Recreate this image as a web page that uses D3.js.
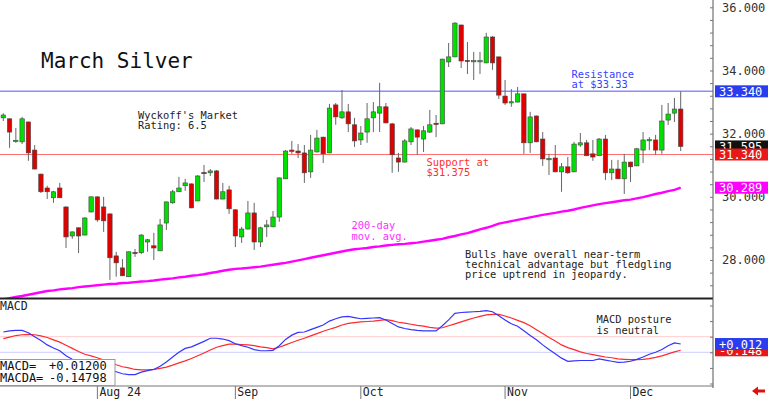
<!DOCTYPE html>
<html>
<head>
<meta charset="utf-8">
<script src="https://cdn.jsdelivr.net/npm/d3@7"></script>
<style>
  body { margin: 0; background: #fff; }
  svg { display: block; font-family: 'DejaVu Sans Mono', monospace; }
</style>
</head>
<body>
<div id="chart"></div>
<script>
// daily bars, oldest first
const opens = [32.50, 32.47, 31.77, 31.74, 32.37, 31.48, 30.72, 30.28, 29.97, 30.28,
  29.68, 28.76, 29.02, 28.79, 29.52, 30.00, 29.68, 29.46, 28.13, 27.75,
  27.47, 28.24, 28.23, 28.57, 28.45, 28.29, 29.17, 29.81, 30.16, 30.35,
  30.41, 29.87, 30.77, 30.76, 30.82, 29.93, 30.22, 29.59, 28.73, 28.98,
  29.49, 28.57, 29.05, 29.05, 29.36, 30.57, 31.48, 31.45, 31.39, 30.79,
  31.42, 31.89, 31.39, 32.91, 32.50, 32.69, 32.28, 31.80, 32.05, 32.50,
  32.65, 32.85, 32.31, 31.23, 31.10, 31.74, 32.12, 31.83, 32.05, 32.33,
  32.31, 34.27, 34.43, 35.44, 34.32, 34.29, 34.29, 34.24, 35.06, 34.43,
  33.19, 32.99, 33.00, 33.26, 31.71, 32.56, 31.83, 31.19, 31.23, 30.79,
  30.95, 30.79, 31.64, 31.71, 31.36, 31.30, 31.83, 30.76, 30.88, 30.57,
  31.10, 30.98, 31.48, 31.78, 31.80, 31.48, 32.43, 32.65, 32.78]
const highs = [32.65, 32.48, 32.18, 32.53, 32.38, 31.64, 30.73, 30.35, 30.19, 30.44,
  29.69, 28.90, 29.03, 29.36, 30.01, 30.01, 30.00, 29.47, 28.26, 28.03,
  28.27, 28.35, 28.82, 28.67, 28.86, 29.30, 29.85, 30.22, 30.63, 30.57,
  30.42, 30.69, 31.01, 30.88, 30.85, 30.44, 30.35, 29.60, 29.05, 29.87,
  29.81, 29.05, 29.27, 29.55, 30.61, 31.48, 31.77, 31.67, 31.64, 31.96,
  32.12, 31.90, 32.94, 32.97, 33.38, 32.94, 32.50, 32.24, 32.97, 33.00,
  33.61, 32.97, 32.34, 31.39, 31.83, 32.21, 32.13, 32.24, 32.75, 32.59,
  34.37, 34.87, 35.53, 35.45, 34.90, 34.59, 34.59, 35.19, 35.09, 34.44,
  33.70, 33.41, 33.48, 33.27, 32.69, 32.57, 32.05, 31.36, 31.64, 31.07,
  31.26, 31.74, 32.02, 31.80, 31.80, 31.86, 31.96, 31.17, 31.17, 31.36,
  31.11, 31.55, 32.05, 31.89, 31.96, 32.91, 32.97, 33.13, 33.34]
const lows = [32.40, 31.55, 31.71, 31.67, 31.14, 30.87, 30.12, 29.93, 29.81, 29.96,
  28.38, 28.67, 28.22, 28.78, 29.51, 29.21, 28.89, 27.37, 27.47, 27.49,
  27.46, 28.10, 28.19, 28.26, 28.00, 28.28, 28.95, 29.78, 30.15, 30.19,
  29.64, 29.86, 30.47, 30.66, 29.92, 29.92, 29.46, 28.41, 28.54, 28.97,
  28.32, 28.41, 28.73, 29.04, 29.21, 30.56, 31.36, 31.23, 30.44, 30.60,
  31.41, 31.07, 31.38, 32.28, 32.47, 32.05, 31.58, 31.64, 31.71, 32.05,
  32.05, 32.33, 30.76, 30.79, 31.09, 31.64, 31.33, 31.42, 32.02, 31.89,
  32.30, 34.11, 34.42, 34.08, 33.89, 33.70, 33.89, 34.23, 34.02, 33.10,
  32.91, 32.85, 32.99, 31.36, 31.39, 31.73, 30.98, 30.69, 30.78, 30.16,
  30.73, 30.78, 31.58, 31.29, 31.14, 31.29, 30.53, 30.53, 30.56, 30.09,
  30.47, 30.97, 31.07, 31.48, 31.33, 31.36, 32.28, 32.37, 31.45]
const closes = [32.59, 32.05, 31.79, 32.47, 31.39, 30.88, 30.16, 30.16, 30.16, 29.97,
  28.73, 28.89, 28.76, 29.33, 30.00, 29.27, 29.24, 28.07, 27.91, 27.50,
  28.26, 28.21, 28.79, 28.64, 28.38, 29.11, 29.84, 30.16, 30.28, 30.44,
  29.65, 30.66, 30.74, 30.82, 29.93, 30.16, 29.62, 28.76, 28.98, 29.49,
  28.57, 29.02, 29.11, 29.36, 30.60, 31.45, 31.44, 31.39, 30.76, 31.48,
  31.86, 31.36, 32.81, 32.53, 32.69, 32.31, 31.77, 32.02, 32.47, 32.69,
  32.85, 32.34, 31.33, 31.10, 31.77, 32.15, 31.89, 32.09, 32.28, 32.29,
  34.36, 34.43, 35.50, 34.30, 34.29, 34.31, 34.31, 35.06, 34.24, 33.22,
  32.97, 33.01, 33.26, 31.71, 32.53, 31.74, 31.20, 31.21, 30.79, 30.95,
  30.76, 31.67, 31.71, 31.30, 31.26, 31.83, 30.76, 30.88, 30.57, 31.10,
  30.95, 31.52, 31.80, 31.81, 31.48, 32.40, 32.62, 32.78, 31.595]
const ma200 = [26.75, 26.79, 26.83, 26.86, 26.90, 26.94, 26.98, 27.02, 27.04, 27.07,
  27.09, 27.11, 27.14, 27.16, 27.18, 27.20, 27.22, 27.24, 27.25, 27.27,
  27.28, 27.30, 27.32, 27.33, 27.35, 27.38, 27.40, 27.42, 27.45, 27.47,
  27.50, 27.52, 27.55, 27.59, 27.62, 27.66, 27.69, 27.72, 27.73, 27.75,
  27.77, 27.79, 27.82, 27.85, 27.88, 27.91, 27.95, 27.99, 28.03, 28.07,
  28.11, 28.15, 28.19, 28.23, 28.27, 28.31, 28.34, 28.36, 28.38, 28.41,
  28.43, 28.46, 28.48, 28.50, 28.51, 28.53, 28.55, 28.58, 28.61, 28.64,
  28.67, 28.72, 28.76, 28.81, 28.85, 28.91, 28.97, 29.02, 29.08, 29.15,
  29.19, 29.23, 29.27, 29.31, 29.35, 29.39, 29.43, 29.46, 29.49, 29.53,
  29.56, 29.60, 29.65, 29.69, 29.73, 29.77, 29.80, 29.83, 29.86, 29.89,
  29.91, 29.95, 29.99, 30.04, 30.09, 30.13, 30.18, 30.22, 30.289]
const macd = [0.32, 0.35, 0.36, 0.36, 0.30, 0.20, 0.10, -0.01, -0.09, -0.16,
  -0.29, -0.38, -0.46, -0.51, -0.55, -0.58, -0.61, -0.65, -0.70, -0.75,
  -0.77, -0.77, -0.71, -0.67, -0.64, -0.56, -0.45, -0.32, -0.20, -0.10,
  -0.06, 0.01, 0.08, 0.16, 0.16, 0.14, 0.10, 0.02, -0.03, -0.07,
  -0.13, -0.16, -0.16, -0.15, -0.03, 0.13, 0.24, 0.31, 0.32, 0.38,
  0.44, 0.50, 0.60, 0.66, 0.71, 0.72, 0.69, 0.66, 0.67, 0.68,
  0.69, 0.63, 0.54, 0.45, 0.41, 0.38, 0.36, 0.35, 0.35, 0.35,
  0.48, 0.63, 0.80, 0.82, 0.83, 0.84, 0.85, 0.87, 0.84, 0.74,
  0.63, 0.53, 0.47, 0.35, 0.23, 0.12, -0.01, -0.13, -0.24, -0.35,
  -0.43, -0.42, -0.41, -0.41, -0.41, -0.37, -0.40, -0.43, -0.46, -0.45,
  -0.43, -0.38, -0.32, -0.25, -0.20, -0.13, -0.03, 0.04, 0.012]
const macdAvg = [0.15, 0.19, 0.23, 0.25, 0.26, 0.25, 0.22, 0.18, 0.12, 0.06,
  -0.02, -0.10, -0.18, -0.25, -0.29, -0.34, -0.40, -0.46, -0.52, -0.57,
  -0.60, -0.64, -0.65, -0.65, -0.64, -0.61, -0.58, -0.53, -0.47, -0.42,
  -0.36, -0.29, -0.22, -0.14, -0.07, -0.03, 0.01, 0.01, 0.00, -0.01,
  -0.03, -0.06, -0.08, -0.11, -0.07, -0.01, 0.05, 0.11, 0.16, 0.22,
  0.28, 0.34, 0.39, 0.44, 0.50, 0.54, 0.56, 0.58, 0.59, 0.60,
  0.62, 0.64, 0.61, 0.57, 0.55, 0.52, 0.49, 0.47, 0.44, 0.42,
  0.43, 0.48, 0.53, 0.58, 0.63, 0.68, 0.72, 0.76, 0.77, 0.77,
  0.73, 0.68, 0.62, 0.56, 0.48, 0.38, 0.28, 0.18, 0.09, -0.01,
  -0.08, -0.13, -0.19, -0.23, -0.26, -0.29, -0.32, -0.34, -0.37, -0.38,
  -0.39, -0.39, -0.38, -0.36, -0.33, -0.29, -0.24, -0.19, -0.148]
const dateLabels = ['Aug 24', 'Sep', 'Oct', 'Nov', 'Dec']
const dateIndex = [15, 37, 57, 80, 100]
const priceTicks = [28, 30, 32, 34, 36]
const resistance = 33.34
const support = 31.34

const W = 768
const H = 399
const plotRight = 713
const priceBottom = 298.5
const macdTop = 299
const macdBottom = 386

const svg = d3.select('#chart').append('svg')
  .attr('width', W).attr('height', H)

const x = d3.scaleLinear().domain([0, closes.length - 1]).range([3.3, 680.7])
const y = d3.scaleLinear().domain([28, 36]).range([260, 7.3])
const ym = d3.scaleLinear().domain([-0.2, 0.2]).range([352.3, 336.7])

// clip areas for both panels
const defs = svg.append('defs')
defs.append('clipPath').attr('id', 'clipP').append('rect')
  .attr('x', 0).attr('y', 0).attr('width', plotRight).attr('height', priceBottom)
defs.append('clipPath').attr('id', 'clipM').append('rect')
  .attr('x', 0).attr('y', macdTop).attr('width', plotRight).attr('height', macdBottom - macdTop)

const mono = "'DejaVu Sans Mono', monospace"

// ---------- price panel ----------
const pp = svg.append('g').attr('clip-path', 'url(#clipP)')

pp.append('line')
  .attr('x1', 0).attr('x2', W).attr('y1', y(resistance)).attr('y2', y(resistance))
  .attr('stroke', '#8c8cff').attr('stroke-width', 1.6)
pp.append('line')
  .attr('x1', 0).attr('x2', W).attr('y1', y(support)).attr('y2', y(support))
  .attr('stroke', '#ff7070').attr('stroke-width', 1)

const idx = d3.range(closes.length)

pp.selectAll('.wick').data(idx).join('line')
  .attr('class', 'wick')
  .attr('x1', i => x(i)).attr('x2', i => x(i))
  .attr('y1', i => y(highs[i])).attr('y2', i => y(lows[i]))
  .attr('stroke', '#666').attr('stroke-width', 1)

pp.selectAll('.body').data(idx).join('rect')
  .attr('class', 'body')
  .attr('x', i => x(i) - 2.2)
  .attr('width', 4.4)
  .attr('y', i => y(Math.max(opens[i], closes[i])))
  .attr('height', i => Math.max(1.2, Math.abs(y(opens[i]) - y(closes[i]))))
  .attr('fill', i => closes[i] >= opens[i] ? '#00e000' : '#e00000')
  .attr('stroke', '#444').attr('stroke-width', 0.6)

pp.append('path')
  .datum(idx)
  .attr('fill', 'none').attr('stroke', '#ff00ff').attr('stroke-width', 2.4)
  .attr('d', d3.line().x(i => x(i)).y(i => y(ma200[i])))

// ---------- MACD panel ----------
const mp = svg.append('g').attr('clip-path', 'url(#clipM)')
mp.append('line').attr('x1', 0).attr('x2', plotRight)
  .attr('y1', ym(0.2)).attr('y2', ym(0.2)).attr('stroke', '#ffcccc')
mp.append('line').attr('x1', 0).attr('x2', plotRight)
  .attr('y1', ym(-0.2)).attr('y2', ym(-0.2)).attr('stroke', '#ccccff')
mp.append('path').datum(idx)
  .attr('fill', 'none').attr('stroke', '#ff2a2a').attr('stroke-width', 1.2)
  .attr('d', d3.line().x(i => x(i)).y(i => ym(macdAvg[i])))
mp.append('path').datum(idx)
  .attr('fill', 'none').attr('stroke', '#3535ff').attr('stroke-width', 1.2)
  .attr('d', d3.line().x(i => x(i)).y(i => ym(macd[i])))

// panel frame
svg.append('line').attr('x1', 0).attr('x2', plotRight)
  .attr('y1', priceBottom).attr('y2', priceBottom)
  .attr('stroke', '#222').attr('stroke-width', 1.8)
svg.append('line').attr('x1', 0).attr('x2', plotRight)
  .attr('y1', macdBottom).attr('y2', macdBottom)
  .attr('stroke', '#777').attr('stroke-width', 1)
svg.append('line').attr('x1', plotRight).attr('x2', plotRight)
  .attr('y1', 0).attr('y2', macdBottom + 2)
  .attr('stroke', '#555').attr('stroke-width', 1)

// right axis
const axisG = svg.append('g').attr('transform', 'translate(' + plotRight + ',0)')
axisG.call(d3.axisRight(y).tickValues(priceTicks).tickFormat(d3.format('.3f'))
  .tickSize(0).tickPadding(9))
axisG.select('.domain').remove()
axisG.selectAll('text').attr('font-family', mono).attr('font-size', 12).attr('fill', '#333')

const minor = svg.append('g').attr('transform', 'translate(' + plotRight + ',0)')
minor.call(d3.axisLeft(y).tickValues(d3.range(27.2, 36.2, 0.4)).tickFormat('').tickSize(3))
minor.select('.domain').remove()
minor.selectAll('line').attr('stroke', '#777')

const minorM = svg.append('g').attr('transform', 'translate(' + plotRight + ',0)')
minorM.call(d3.axisLeft(ym).tickValues([-1.0, -0.6, -0.2, 0.2, 0.6, 1.0]).tickFormat('').tickSize(3))
minorM.select('.domain').remove()
minorM.selectAll('line').attr('stroke', '#777')

// value tags at right edge
function tag (yy, txt, bg) {
  svg.append('rect').attr('x', plotRight + 2).attr('y', yy - 6)
    .attr('width', W - plotRight - 2).attr('height', 12).attr('fill', bg)
  svg.append('text').attr('x', plotRight + 6).attr('y', yy + 4.5)
    .attr('font-family', mono).attr('font-size', 12).attr('fill', '#fff').text(txt)
}
tag(y(resistance), '33.340', '#2a3cf0')
tag(y(closes[closes.length - 1]), '31.595', '#111')
tag(y(support), '31.340', '#e81818')
tag(y(ma200[ma200.length - 1]), '30.289', '#ff00ff')
tag(ym(macdAvg[macdAvg.length - 1]), '-0.148', '#e81818')
tag(ym(macd[macd.length - 1]), '+0.012', '#2a3cf0')

// date row
const dg = svg.append('g')
dateIndex.forEach((d, k) => {
  dg.append('line').attr('x1', x(d)).attr('x2', x(d))
    .attr('y1', macdBottom).attr('y2', H).attr('stroke', '#777')
  dg.append('text').attr('x', x(d) + 2).attr('y', 396)
    .attr('font-family', mono).attr('font-size', 11.5).attr('fill', '#222')
    .text(dateLabels[k])
})

// little red arrow bottom right
svg.append('path').attr('d', 'M752,391 l6,-4.5 v3 h7 v3 h-7 v3 z').attr('fill', '#e01010')

// ---------- text ----------
function lines (x0, y0, arr, color, size, step) {
  arr.forEach((t, k) => {
    svg.append('text').attr('x', x0).attr('y', y0 + k * step)
      .attr('font-family', mono).attr('font-size', size).attr('fill', color)
      .attr('xml:space', 'preserve').text(t)
  })
}
lines(41, 67.5, ['March Silver'], '#111', 21, 0)
lines(138, 118.5, ["Wyckoff's Market", 'Rating: 6.5'], '#222', 10.4, 10.5)
lines(426.5, 165.5, ['Support at', '$31.375'], '#ff3030', 10.4, 10.5)
lines(351.5, 229, ['200-day', 'mov. avg.'], '#ff30ff', 10.4, 10.7)
lines(571.5, 77.5, ['Resistance', 'at $33.33'], '#3344ff', 10.4, 10.3)
lines(465, 258.3, ['Bulls have overall near-term', 'technical advantage but fledgling', 'price uptrend in jeopardy.'], '#222', 10.4, 10)
lines(596.5, 323.3, ['MACD posture', 'is neutral'], '#222', 10.4, 10.7)
lines(0, 310, ['MACD'], '#222', 11.5, 0)

// readout box
svg.append('rect').attr('x', -1).attr('y', 359.5).attr('width', 116).attr('height', 26)
  .attr('fill', '#fff').attr('stroke', '#999')
lines(0, 369.5, ['MACD=', 'MACDA='], '#111', 12, 12.3)
lines(49, 369.5, ['+0.01200', '-0.14798'], '#111', 12, 12.3)
</script>
</body>
</html>
